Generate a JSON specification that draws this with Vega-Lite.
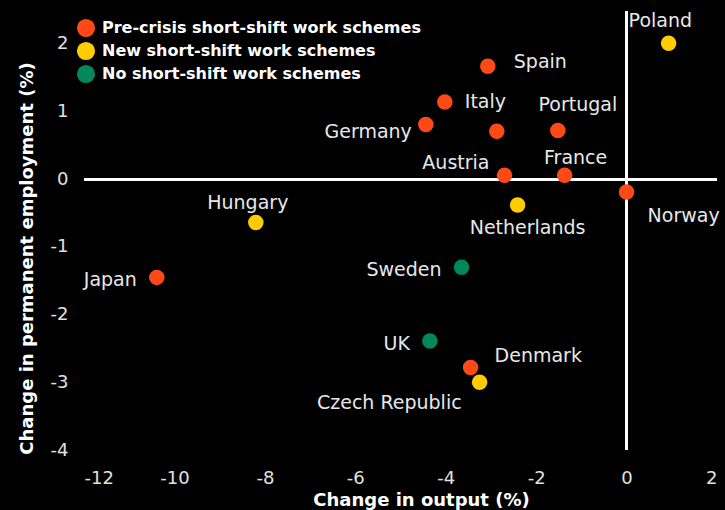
{
  "$schema": "https://vega.github.io/schema/vega-lite/v6.json",
  "width": 633,
  "height": 440,
  "autosize": {"type": "none"},
  "padding": {"left": 84, "top": 10, "right": 8, "bottom": 60},
  "background": "#000000",
  "config": {
    "view": {"stroke": null},
    "font": "DejaVu Sans",
    "text": {"font": "DejaVu Sans", "fontSize": 19, "color": "#E8E8E8", "baseline": "middle"}
  },
  "data": {
    "values": [
      {"country": "Poland", "output": 0.93, "employment": 2.01, "scheme": "New short-shift work schemes"},
      {"country": "Spain", "output": -3.07, "employment": 1.67, "scheme": "Pre-crisis short-shift work schemes"},
      {"country": "Italy", "output": -4.02, "employment": 1.14, "scheme": "Pre-crisis short-shift work schemes"},
      {"country": "Germany", "output": -4.44, "employment": 0.81, "scheme": "Pre-crisis short-shift work schemes"},
      {"country": "", "output": -2.87, "employment": 0.71, "scheme": "Pre-crisis short-shift work schemes"},
      {"country": "Portugal", "output": -1.52, "employment": 0.72, "scheme": "Pre-crisis short-shift work schemes"},
      {"country": "Austria", "output": -2.70, "employment": 0.06, "scheme": "Pre-crisis short-shift work schemes"},
      {"country": "France", "output": -1.37, "employment": 0.06, "scheme": "Pre-crisis short-shift work schemes"},
      {"country": "Norway", "output": 0.0, "employment": -0.19, "scheme": "Pre-crisis short-shift work schemes"},
      {"country": "Netherlands", "output": -2.41, "employment": -0.38, "scheme": "New short-shift work schemes"},
      {"country": "Hungary", "output": -8.20, "employment": -0.64, "scheme": "New short-shift work schemes"},
      {"country": "Japan", "output": -10.39, "employment": -1.45, "scheme": "Pre-crisis short-shift work schemes"},
      {"country": "Sweden", "output": -3.65, "employment": -1.30, "scheme": "No short-shift work schemes"},
      {"country": "UK", "output": -4.35, "employment": -2.39, "scheme": "No short-shift work schemes"},
      {"country": "Denmark", "output": -3.45, "employment": -2.78, "scheme": "Pre-crisis short-shift work schemes"},
      {"country": "Czech Republic", "output": -3.25, "employment": -3.0, "scheme": "New short-shift work schemes"}
    ]
  },
  "encoding": {
    "x": {
      "field": "output", "type": "quantitative",
      "scale": {"domain": [-12, 2], "nice": false, "zero": false},
      "axis": {
        "title": "Change in output (%)", "values": [-12, -10, -8, -6, -4, -2, 0, 2],
        "labelExpr": "'' + datum.value",
        "domain": false, "ticks": false, "grid": false,
        "labelColor": "#E0E0E0", "labelFontSize": 18, "labelFont": "DejaVu Sans", "labelPadding": 19,
        "titleColor": "#FFFFFF", "titleFontSize": 18, "titleFont": "DejaVu Sans", "titleFontWeight": "bold",
        "titleX": 337, "titleY": 50, "titleBaseline": "middle"
      }
    },
    "y": {
      "field": "employment", "type": "quantitative",
      "scale": {"domain": [-4, 2.5], "nice": false, "zero": false},
      "axis": {
        "title": "Change in permanent employment (%)", "values": [-4, -3, -2, -1, 0, 1, 2],
        "labelExpr": "'' + datum.value",
        "domain": false, "ticks": false, "grid": false,
        "labelColor": "#E0E0E0", "labelFontSize": 18, "labelFont": "DejaVu Sans", "labelPadding": 16,
        "titleColor": "#FFFFFF", "titleFontSize": 18, "titleFont": "DejaVu Sans", "titleFontWeight": "bold",
        "titleX": -57, "titleY": 248, "titleBaseline": "middle"
      }
    }
  },
  "layer": [
    {
      "mark": {"type": "rule", "color": "#FFFFFF", "strokeWidth": 2},
      "encoding": {"y": {"datum": 0}, "x": {"datum": -12}, "x2": {"datum": 2}}
    },
    {
      "mark": {"type": "rule", "color": "#FFFFFF", "strokeWidth": 2},
      "encoding": {"x": {"datum": 0}, "y": {"datum": -4}, "y2": {"datum": 2.48}}
    },
    {
      "mark": {"type": "circle", "opacity": 1, "size": 240},
      "encoding": {
        "color": {
          "field": "scheme", "type": "nominal",
          "scale": {
            "domain": ["Pre-crisis short-shift work schemes", "New short-shift work schemes", "No short-shift work schemes"],
            "range": ["#FF4A17", "#FFCC00", "#00875A"]
          },
          "legend": {
            "title": null, "orient": "none", "legendX": -8, "legendY": 8,
            "symbolType": "circle", "symbolSize": 330, "symbolOpacity": 1,
            "labelColor": "#FFFFFF", "labelFontSize": 16, "labelFont": "DejaVu Sans", "labelFontWeight": "bold",
            "rowPadding": 3, "labelOffset": 6, "labelLimit": 400
          }
        }
      }
    },
    {
      "transform": [{"filter": {"field": "country", "oneOf": ["Spain"]}}],
      "mark": {"type": "text", "align": "left", "dx": 26, "dy": -4},
      "encoding": {"text": {"field": "country"}}
    },
    {
      "transform": [{"filter": {"field": "country", "oneOf": ["Italy"]}}],
      "mark": {"type": "text", "align": "left", "dx": 20, "dy": 0},
      "encoding": {"text": {"field": "country"}}
    },
    {
      "transform": [{"filter": {"field": "country", "oneOf": ["Denmark"]}}],
      "mark": {"type": "text", "align": "left", "dx": 24, "dy": -11},
      "encoding": {"text": {"field": "country"}}
    },
    {
      "transform": [{"filter": {"field": "country", "oneOf": ["Norway"]}}],
      "mark": {"type": "text", "align": "left", "dx": 21, "dy": 24},
      "encoding": {"text": {"field": "country"}}
    },
    {
      "transform": [{"filter": {"field": "country", "oneOf": ["Poland"]}}],
      "mark": {"type": "text", "align": "left", "dx": -40, "dy": -22},
      "encoding": {"text": {"field": "country"}}
    },
    {
      "transform": [{"filter": {"field": "country", "oneOf": ["Germany"]}}],
      "mark": {"type": "text", "align": "right", "dx": -14, "dy": 8},
      "encoding": {"text": {"field": "country"}}
    },
    {
      "transform": [{"filter": {"field": "country", "oneOf": ["Japan", "Sweden", "UK"]}}],
      "mark": {"type": "text", "align": "right", "dx": -20, "dy": 3},
      "encoding": {"text": {"field": "country"}}
    },
    {
      "transform": [{"filter": {"field": "country", "oneOf": ["Austria"]}}],
      "mark": {"type": "text", "align": "right", "dx": -15, "dy": -12},
      "encoding": {"text": {"field": "country"}}
    },
    {
      "transform": [{"filter": {"field": "country", "oneOf": ["Czech Republic"]}}],
      "mark": {"type": "text", "align": "right", "dx": -18, "dy": 21},
      "encoding": {"text": {"field": "country"}}
    },
    {
      "transform": [{"filter": {"field": "country", "oneOf": ["Portugal"]}}],
      "mark": {"type": "text", "align": "center", "dx": 20, "dy": -25},
      "encoding": {"text": {"field": "country"}}
    },
    {
      "transform": [{"filter": {"field": "country", "oneOf": ["France"]}}],
      "mark": {"type": "text", "align": "center", "dx": 11, "dy": -17},
      "encoding": {"text": {"field": "country"}}
    },
    {
      "transform": [{"filter": {"field": "country", "oneOf": ["Hungary"]}}],
      "mark": {"type": "text", "align": "center", "dx": -8, "dy": -20},
      "encoding": {"text": {"field": "country"}}
    },
    {
      "transform": [{"filter": {"field": "country", "oneOf": ["Netherlands"]}}],
      "mark": {"type": "text", "align": "center", "dx": 10, "dy": 23},
      "encoding": {"text": {"field": "country"}}
    }
  ]
}
